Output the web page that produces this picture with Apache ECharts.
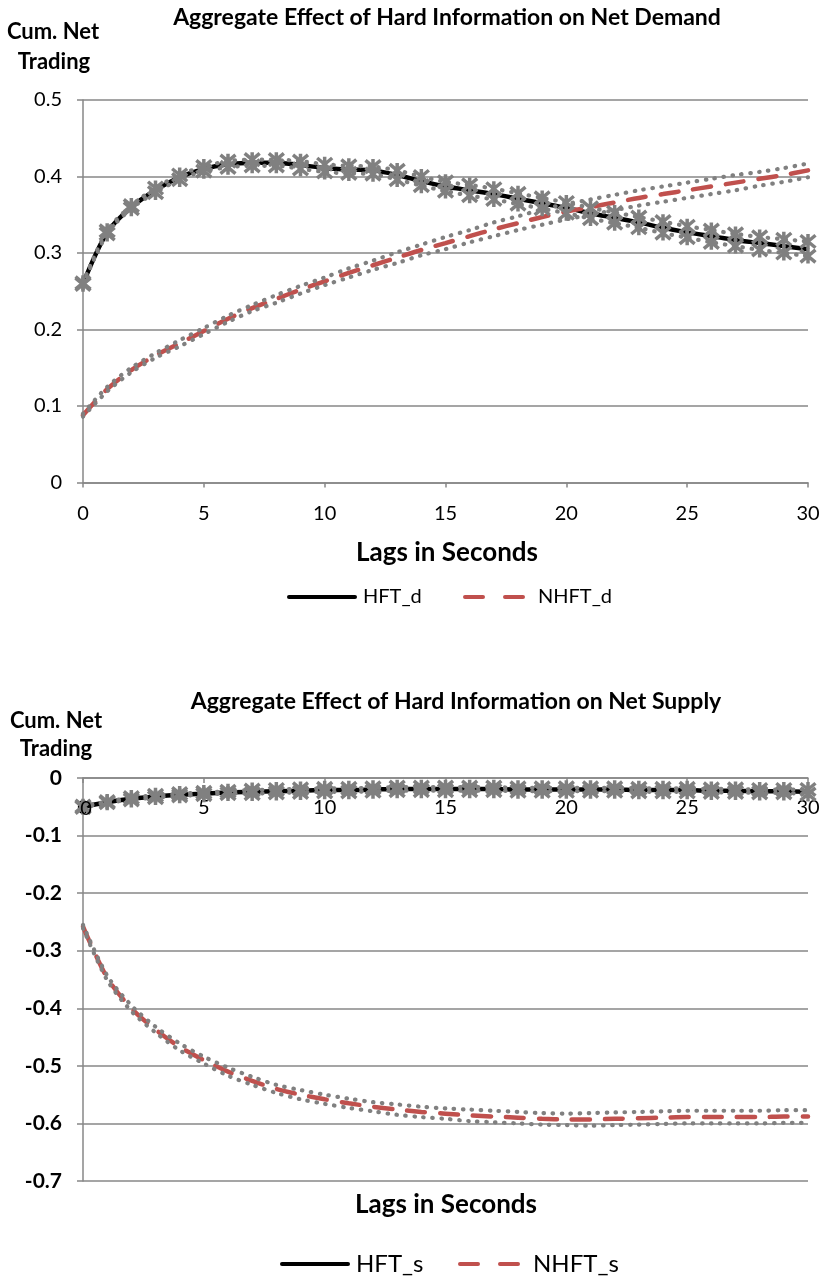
<!DOCTYPE html>
<html>
<head>
<meta charset="utf-8">
<title>Aggregate Effect of Hard Information</title>
<script src="https://cdn.jsdelivr.net/npm/echarts@6/dist/echarts.min.js"></script>
<style>
  html, body { margin: 0; padding: 0; background: #fff; }
  #main { width: 824px; height: 1280px; }
</style>
</head>
<body>
<div id="main"></div>
<script>
// lags in seconds (x axis)
var lags = [0, 1, 2, 3, 4, 5, 6, 7, 8, 9, 10, 11, 12, 13, 14, 15, 16, 17, 18, 19, 20, 21, 22, 23, 24, 25, 26, 27, 28, 29, 30];
var xTicks = [0, 5, 10, 15, 20, 25, 30];
var yTicksDemand = [0, 0.1, 0.2, 0.3, 0.4, 0.5];
var yTicksSupply = [-0.7, -0.6, -0.5, -0.4, -0.3, -0.2, -0.1, 0];

// net demand
var hftD = [0.260, 0.327, 0.360, 0.382, 0.399, 0.410, 0.416, 0.418, 0.418, 0.415, 0.411, 0.409, 0.408, 0.402, 0.394, 0.387, 0.382, 0.377, 0.371, 0.365, 0.359, 0.352, 0.346, 0.340, 0.333, 0.327, 0.322, 0.317, 0.313, 0.309, 0.305];
var hftDHi = [0.261, 0.329, 0.362, 0.385, 0.402, 0.413, 0.420, 0.422, 0.422, 0.420, 0.416, 0.414, 0.413, 0.408, 0.400, 0.393, 0.389, 0.384, 0.378, 0.372, 0.366, 0.359, 0.353, 0.347, 0.341, 0.335, 0.330, 0.325, 0.321, 0.318, 0.315];
var hftDLo = [0.259, 0.325, 0.358, 0.379, 0.396, 0.407, 0.412, 0.414, 0.414, 0.410, 0.406, 0.404, 0.403, 0.396, 0.388, 0.381, 0.375, 0.370, 0.364, 0.358, 0.352, 0.345, 0.339, 0.333, 0.326, 0.320, 0.314, 0.309, 0.304, 0.300, 0.296];
var nhftD = [0.088, 0.122, 0.147, 0.166, 0.182, 0.198, 0.214, 0.228, 0.240, 0.252, 0.263, 0.274, 0.284, 0.294, 0.304, 0.313, 0.322, 0.331, 0.339, 0.347, 0.354, 0.360, 0.366, 0.372, 0.377, 0.382, 0.387, 0.392, 0.397, 0.402, 0.408];
var nhftDHi = [0.090, 0.125, 0.150, 0.169, 0.186, 0.202, 0.218, 0.232, 0.245, 0.257, 0.268, 0.280, 0.290, 0.301, 0.311, 0.321, 0.330, 0.340, 0.348, 0.357, 0.364, 0.370, 0.376, 0.382, 0.387, 0.392, 0.397, 0.402, 0.406, 0.411, 0.417];
var nhftDLo = [0.086, 0.119, 0.144, 0.163, 0.178, 0.194, 0.210, 0.224, 0.235, 0.247, 0.258, 0.268, 0.278, 0.287, 0.297, 0.305, 0.314, 0.322, 0.330, 0.337, 0.344, 0.350, 0.356, 0.362, 0.367, 0.372, 0.377, 0.382, 0.388, 0.393, 0.399];

// net supply
var hftS = [-0.050, -0.042, -0.036, -0.032, -0.029, -0.027, -0.025, -0.024, -0.023, -0.022, -0.021, -0.021, -0.020, -0.019, -0.019, -0.019, -0.019, -0.019, -0.020, -0.020, -0.020, -0.020, -0.020, -0.021, -0.021, -0.021, -0.022, -0.022, -0.023, -0.023, -0.024];
var hftSHi = [-0.049, -0.041, -0.034, -0.030, -0.027, -0.025, -0.023, -0.021, -0.020, -0.019, -0.018, -0.018, -0.017, -0.016, -0.016, -0.016, -0.016, -0.016, -0.017, -0.017, -0.017, -0.017, -0.017, -0.018, -0.018, -0.018, -0.019, -0.019, -0.020, -0.020, -0.020];
var hftSLo = [-0.051, -0.043, -0.038, -0.034, -0.031, -0.029, -0.027, -0.027, -0.026, -0.025, -0.024, -0.024, -0.023, -0.022, -0.022, -0.022, -0.022, -0.022, -0.023, -0.023, -0.023, -0.023, -0.023, -0.024, -0.024, -0.024, -0.025, -0.025, -0.026, -0.026, -0.028];
var nhftS = [-0.258, -0.347, -0.400, -0.437, -0.467, -0.490, -0.510, -0.526, -0.540, -0.550, -0.558, -0.565, -0.571, -0.576, -0.580, -0.583, -0.586, -0.588, -0.590, -0.592, -0.593, -0.593, -0.592, -0.591, -0.590, -0.589, -0.589, -0.589, -0.589, -0.588, -0.588];
var nhftSHi = [-0.255, -0.343, -0.395, -0.432, -0.461, -0.484, -0.503, -0.519, -0.533, -0.542, -0.550, -0.557, -0.563, -0.567, -0.571, -0.574, -0.576, -0.578, -0.580, -0.582, -0.583, -0.582, -0.581, -0.580, -0.579, -0.578, -0.578, -0.578, -0.578, -0.577, -0.577];
var nhftSLo = [-0.261, -0.351, -0.405, -0.442, -0.473, -0.496, -0.517, -0.533, -0.547, -0.558, -0.566, -0.573, -0.579, -0.585, -0.589, -0.592, -0.596, -0.598, -0.600, -0.602, -0.603, -0.604, -0.603, -0.602, -0.601, -0.600, -0.600, -0.600, -0.600, -0.599, -0.599];

var FONT = 'Lato, "Open Sans", sans-serif';
var GRID_GRAY = '#878787';
var BAND_GRAY = '#808080';
var RED = '#C0504D';
var STAR = 'path://M1,1L11,11M11,1L1,11M6,0L6,12';
// legend icons: a solid bar and two rounded dashes
var SOLID_ICON = 'path://M2,0H68A2,2 0 0 1 68,4H2A2,2 0 0 1 2,0Z';
var DASH_ICON = 'path://M2,0H20A2,2 0 0 1 20,4H2A2,2 0 0 1 2,0Z M42,0H60A2,2 0 0 1 60,4H42A2,2 0 0 1 42,0Z';

function pairs(ys) {
  return lags.map(function (x, i) { return [x, ys[i]]; });
}

function mainLine(name, ys, idx, color, dashed) {
  return {
    name: name, type: 'line', xAxisIndex: idx, yAxisIndex: idx,
    data: pairs(ys), smooth: 0.3, symbol: 'none', clip: false,
    lineStyle: { color: color, width: 4.5, type: dashed ? [18, 15] : 'solid', cap: dashed ? 'round' : 'butt' },
    itemStyle: { color: color },
    emphasis: { disabled: true }
  };
}

function bandLine(name, ys, idx, stars) {
  return {
    name: name, type: 'line', xAxisIndex: idx, yAxisIndex: idx,
    data: pairs(ys), smooth: 0.3, clip: false,
    symbol: stars ? STAR : 'none', symbolSize: 15, showSymbol: !!stars,
    itemStyle: { color: 'rgba(0,0,0,0)', borderColor: BAND_GRAY, borderWidth: 3.5 },
    lineStyle: { color: BAND_GRAY, width: 4.2, type: [0.5, 8.5], cap: 'round' },
    emphasis: { disabled: true }
  };
}

function xAxisFor(idx, atTop) {
  return {
    type: 'value', gridIndex: idx, position: atTop ? 'top' : 'bottom',
    min: xTicks[0], max: xTicks[xTicks.length - 1], interval: 5,
    axisLine: { show: true, onZero: false, lineStyle: { color: GRID_GRAY, width: 1.5 } },
    axisTick: { show: true, inside: atTop, length: 5, lineStyle: { color: GRID_GRAY, width: 1.5 } },
    axisLabel: {
      inside: atTop, color: '#000', fontSize: 20, fontFamily: FONT,
      margin: atTop ? 20 : 21, showMinLabel: true, showMaxLabel: true, hideOverlap: false
    },
    splitLine: { show: false }
  };
}

function yAxisFor(idx, ticks, bold) {
  return {
    type: 'value', gridIndex: idx, min: ticks[0], max: ticks[ticks.length - 1], interval: 0.1,
    axisLine: { show: true, onZero: false, lineStyle: { color: GRID_GRAY, width: 1.5 } },
    axisTick: { show: true, length: 6, lineStyle: { color: GRID_GRAY, width: 1.5 } },
    axisLabel: {
      color: '#000', fontSize: bold ? 21 : 20, fontFamily: FONT, fontWeight: bold ? 'bold' : 'normal', margin: 21,
      showMinLabel: true, showMaxLabel: true, hideOverlap: false,
      formatter: function (v) { return String(Math.round(v * 10) / 10); }
    },
    splitLine: { show: true, lineStyle: { color: GRID_GRAY, width: 1.5 } }
  };
}

function legendFor(name, icon, left, top, width, size) {
  return {
    data: [{ name: name, icon: icon }], left: left, top: top, padding: 0,
    itemWidth: width, itemHeight: 5, selectedMode: false,
    itemStyle: { borderWidth: 0 },
    textStyle: { color: '#000', fontSize: size, fontFamily: FONT, padding: [0, 0, 0, width < 70 ? 8 : 1] }
  };
}

function label(text, x, y, size, bold) {
  return {
    type: 'text', x: x, y: y, z: 100, zlevel: 1,
    style: { text: text, fill: '#000', font: (bold ? 'bold ' : '') + size + 'px ' + FONT, textAlign: 'center', textVerticalAlign: 'middle' }
  };
}

var chart = echarts.init(document.getElementById('main'));

var option = {
  backgroundColor: '#fff',
  animation: false,
  grid: [
    { left: 83, right: 16, top: 100, height: 382.5, containLabel: false },
    { left: 83, right: 16, top: 778, height: 403, containLabel: false }
  ],
  xAxis: [xAxisFor(0, false), xAxisFor(1, true)],
  yAxis: [yAxisFor(0, yTicksDemand, false), yAxisFor(1, yTicksSupply, true)],
  legend: [
    legendFor('HFT_d', SOLID_ICON, 287, 587, 70, 20),
    legendFor('NHFT_d', DASH_ICON, 463, 587, 62, 20),
    legendFor('HFT_s', SOLID_ICON, 280, 1252, 70, 24),
    legendFor('NHFT_s', DASH_ICON, 458, 1252, 62, 24)
  ],
  graphic: [
    label('Aggregate Effect of Hard Information on Net Demand', 447, 18, 23, true),
    label('Cum. Net', 53, 32, 22, true),
    label('Trading', 54, 62, 22, true),
    label('Lags in Seconds', 447, 553, 26, true),
    label('Aggregate Effect of Hard Information on Net Supply', 456, 702, 23, true),
    label('Cum. Net', 56, 721, 22, true),
    label('Trading', 56, 749, 22, true),
    label('Lags in Seconds', 446, 1205, 26, true),
    // the lower x axis drops its first tick label when it sits on the top edge
    label(String(xTicks[0]), 86, 809, 20, false)
  ],
  series: [
    mainLine('HFT_d', hftD, 0, '#000', false),
    mainLine('NHFT_d', nhftD, 0, RED, true),
    bandLine('HFT_d upper', hftDHi, 0, true),
    bandLine('HFT_d lower', hftDLo, 0, true),
    bandLine('NHFT_d upper', nhftDHi, 0, false),
    bandLine('NHFT_d lower', nhftDLo, 0, false),
    mainLine('HFT_s', hftS, 1, '#000', false),
    mainLine('NHFT_s', nhftS, 1, RED, true),
    bandLine('HFT_s upper', hftSHi, 1, true),
    bandLine('HFT_s lower', hftSLo, 1, true),
    bandLine('NHFT_s upper', nhftSHi, 1, false),
    bandLine('NHFT_s lower', nhftSLo, 1, false)
  ]
};

chart.setOption(option);
</script>
</body>
</html>
